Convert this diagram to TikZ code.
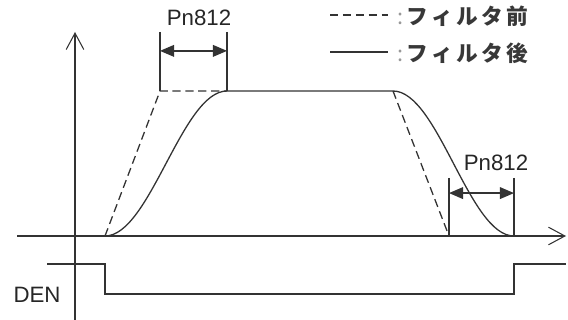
\documentclass[tikz,border=0pt]{standalone}
\usepackage{fontspec}
\setmainfont{Liberation Sans}
\newfontfamily\jpfont[LetterSpace=16]{Noto Sans CJK JP}
\usetikzlibrary{arrows.meta,positioning,calc}

\begin{document}
\begin{tikzpicture}[
    x=0.03cm, y=-0.03cm,
    ln/.style={line width=1.1pt, color=black!80},
    axis/.style={ln, -{Straight Barb[length=14pt, width=15pt, line width=0.9pt]}},
    dim/.style={ln, {Triangle[length=12pt, width=10pt]}-{Triangle[length=12pt, width=10pt]}},
    dsh/.style={ln, dash pattern=on 7pt off 4pt},
    lbl/.style={font=\fontsize{19}{22}\selectfont, inner sep=0pt, text=black!85},
    jlbl/.style={font=\fontsize{18.5}{22}\selectfont\jpfont\bfseries, inner sep=0pt, text=black!78},
  ]
  \useasboundingbox (0,0) rectangle (568,320);

  % axes
  \coordinate (yb) at (75,320);
  \coordinate (yt) at (75,32);
  \coordinate (xl) at (17,236);
  \coordinate (xr) at (566,236);
  \draw[axis] (yb) -- (yt);
  \draw[axis] (xl) -- (xr);

  % command before / after filter
  \coordinate (s0) at (105,236);
  \coordinate (s1) at (160,91);
  \coordinate (s2) at (227,91);
  \coordinate (s3) at (393,91);
  \coordinate (s4) at (449,236);
  \coordinate (s5) at (514,236);
  \draw[dsh] (s0) -- (s1) -- (s2);
  \draw[dsh] (s3) -- (s4);
  \draw[ln] (s0) .. controls +(45,0) and +(-45,0) .. (s2) -- (s3)
            .. controls +(45,0) and +(-45,0) .. (s5);

  % Pn812 (rise)
  \coordinate (a1) at (160,32);
  \coordinate (a2) at (227,32);
  \draw[ln] (a1) -- (s1);
  \draw[ln] (a2) -- (s2);
  \draw[dim] ($(a1)!0.32!(s1)$) -- ($(a2)!0.32!(s2)$);
  \node[lbl] (pnup) at (199,18) {Pn812};

  % Pn812 (fall)
  \coordinate (b1) at (449,178);
  \coordinate (b2) at (514,178);
  \draw[ln] (b1) -- (s4);
  \draw[ln] (b2) -- (s5);
  \draw[dim] ($(b1)!0.26!(s4)$) -- ($(b2)!0.26!(s5)$);
  \node[lbl] (pndn) at (496,163) {Pn812};

  % DEN
  \node[lbl] (den) at (37,295) {DEN};
  \coordinate (d0) at (47,264);
  \coordinate (d1) at (105,264);
  \coordinate (d2) at (514,264);
  \coordinate (d3) at (566,264);
  \draw[ln] (d0) -- (d1) -- (d1 |- 0,294) -- (d2 |- 0,294) -- (d2) -- (d3);

  % legend
  \node[jlbl, anchor=west] (legpre) at (397,16)
    {{\mdseries\color{black!40}:}\hspace{3pt}フィルタ前};
  \node[jlbl, anchor=west] (legpost) at (397,53)
    {{\mdseries\color{black!40}:}\hspace{3pt}フィルタ後};
  \coordinate (lp) at ($(legpre.west)+(-67,-1)$);
  \coordinate (lq) at ($(legpost.west)+(-67,-1)$);
  \draw[dsh] (lp) -- ++(58,0);
  \draw[ln] (lq) -- ++(58,0);
\end{tikzpicture}
\end{document}
